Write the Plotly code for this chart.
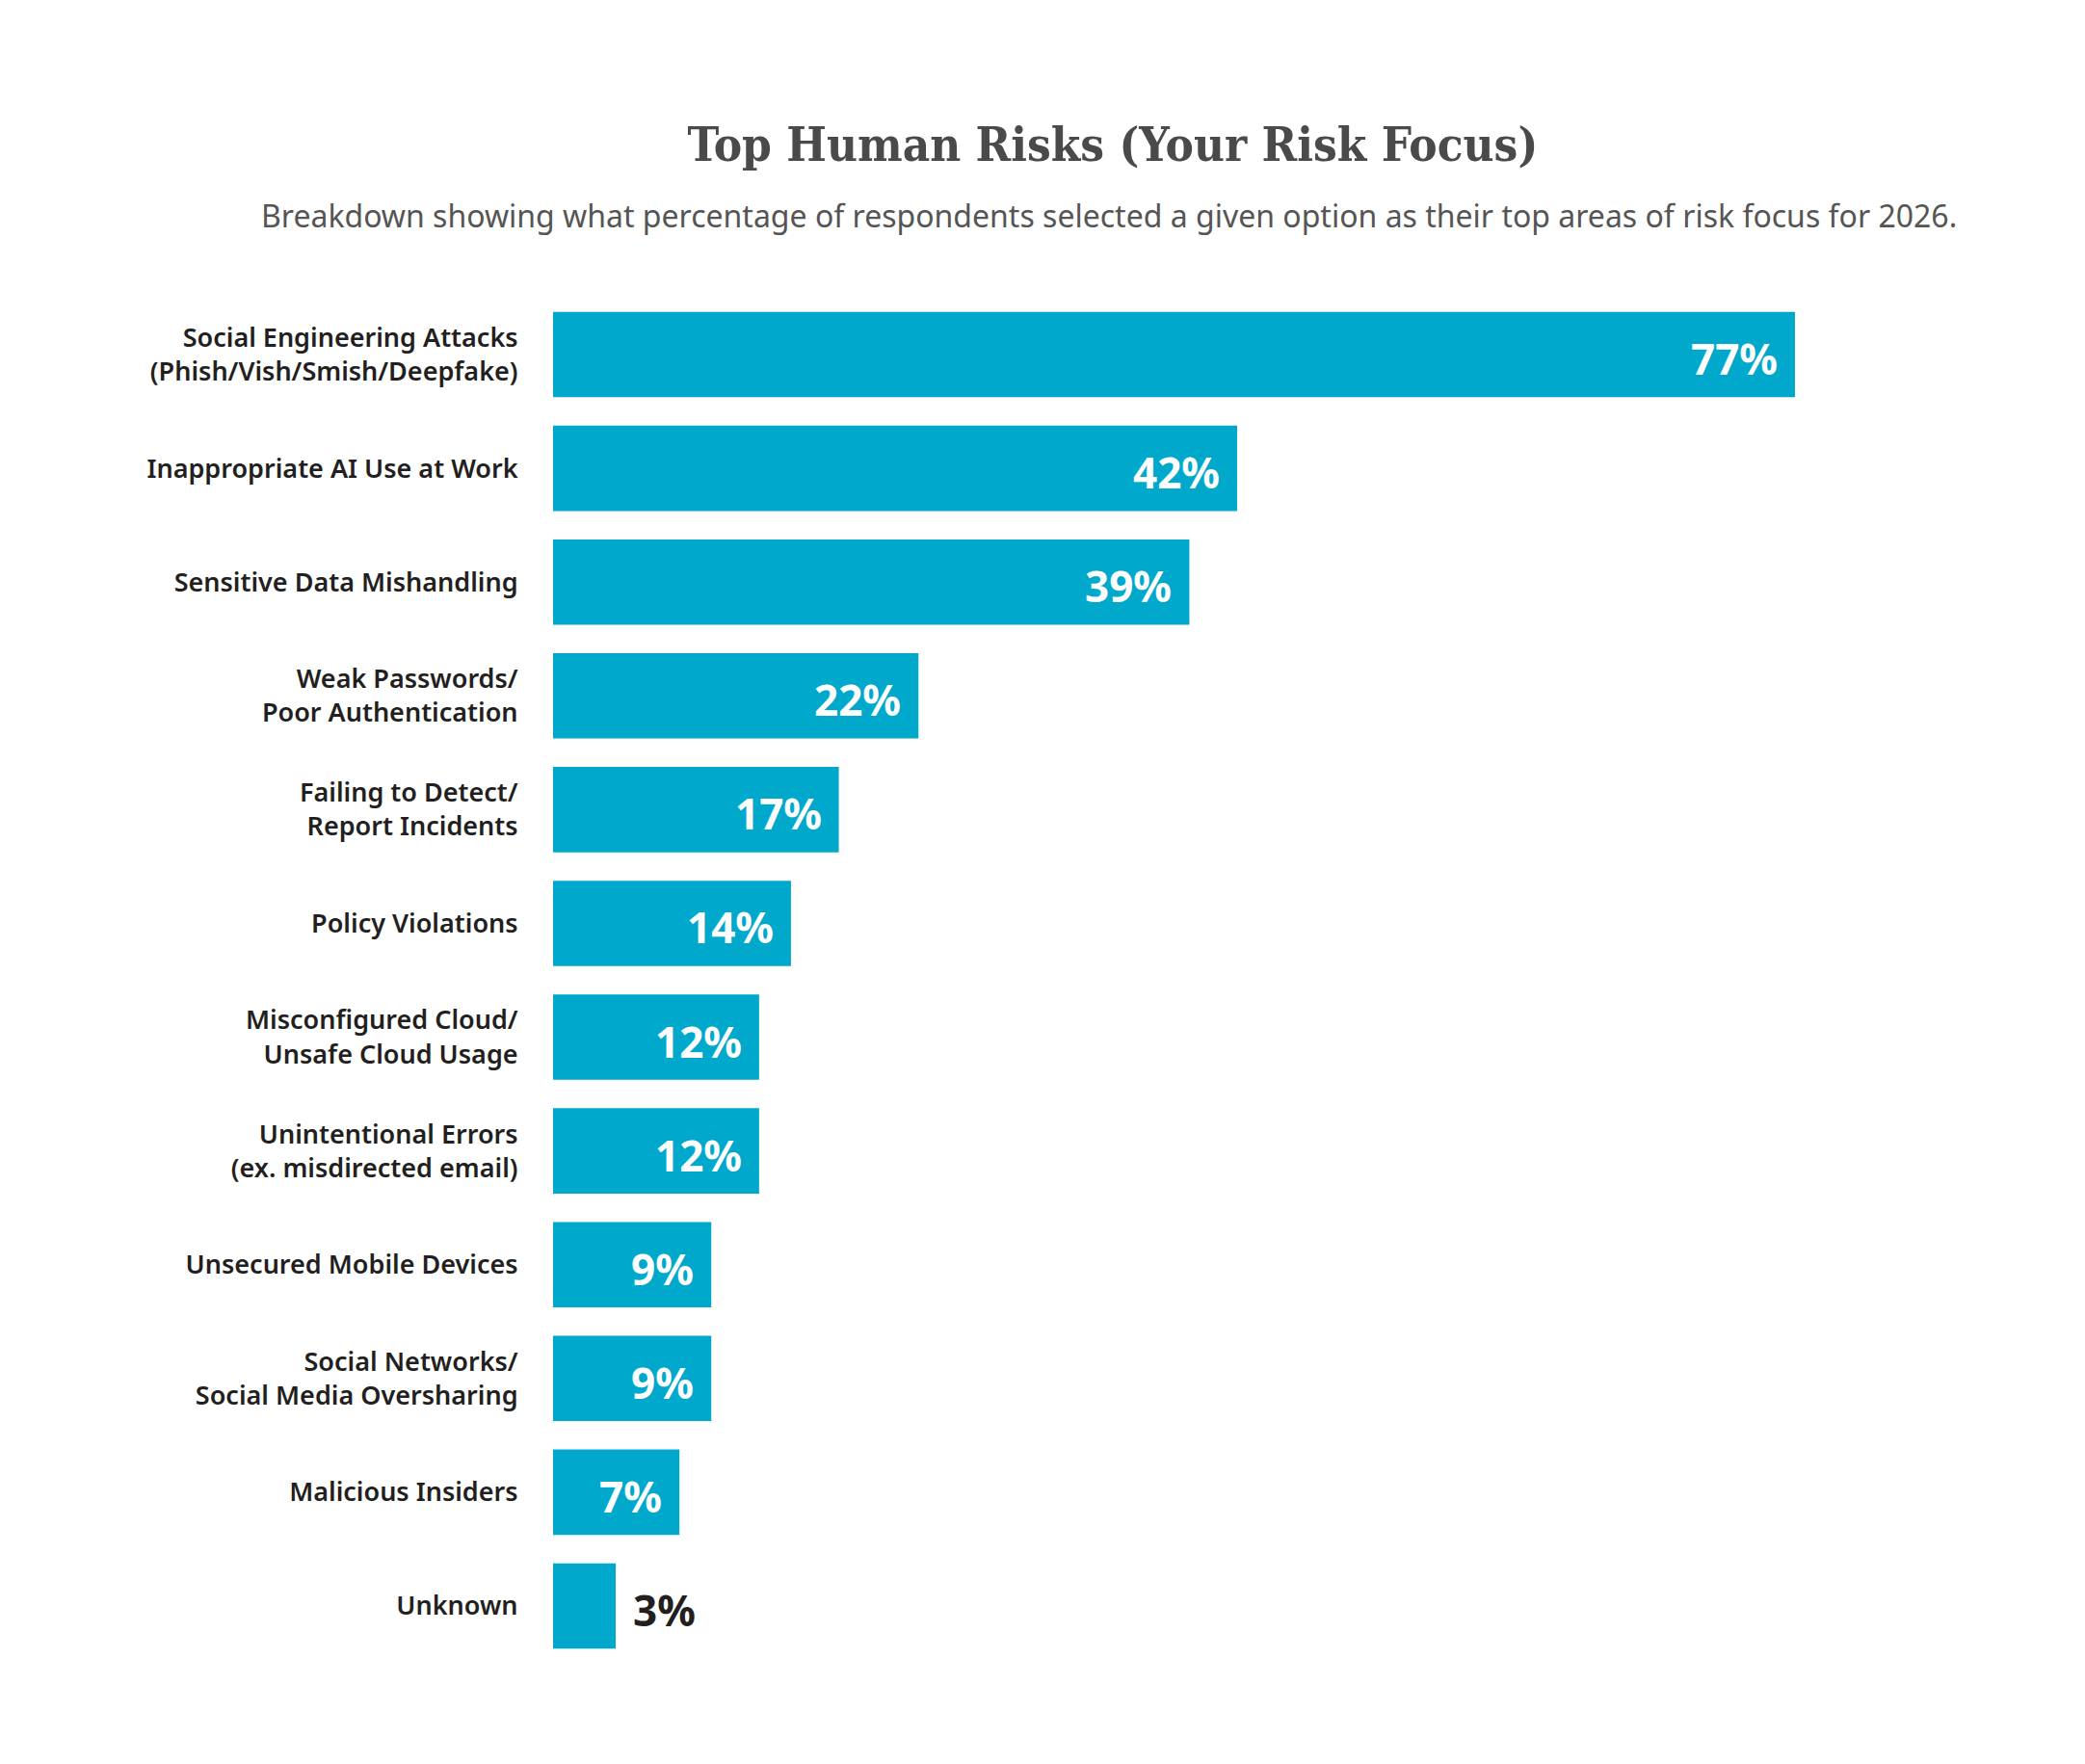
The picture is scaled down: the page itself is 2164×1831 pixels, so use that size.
"""Top Human Risks (Your Risk Focus) - horizontal bar chart"""
import plotly.graph_objects as go

# data, top to bottom
risks = [
    "Social Engineering Attacks<br>(Phish/Vish/Smish/Deepfake)",
    "Inappropriate AI Use at Work",
    "Sensitive Data Mishandling",
    "Weak Passwords/<br>Poor Authentication",
    "Failing to Detect/<br>Report Incidents",
    "Policy Violations",
    "Misconfigured Cloud/<br>Unsafe Cloud Usage",
    "Unintentional Errors<br>(ex. misdirected email)",
    "Unsecured Mobile Devices",
    "Social Networks/<br>Social Media Oversharing",
    "Malicious Insiders",
    "Unknown",
]
pct = [77, 42, 39, 22, 17, 14, 12, 12, 9, 9, 7, 3]

TITLE = "Top Human Risks (Your Risk Focus)"
SUBTITLE = ("Breakdown showing what percentage of respondents selected a given option "
            "as their top areas of risk focus for 2026.")

BAR_COLOR = "#00a8cc"
DARK = "#231f20"
BASE = -0.93          # bars start a little left of zero, like the original
INSIDE_MIN = 5        # below this the value label sits outside the bar

fig = go.Figure()
fig.add_trace(go.Bar(
    x=[v - BASE for v in pct], y=risks, base=BASE, orientation="h",
    marker=dict(color=BAR_COLOR, line=dict(width=0)),
    hoverinfo="skip",
))

# value labels
for name, v in zip(risks, pct):
    inside = v >= INSIDE_MIN
    fig.add_annotation(
        x=v, y=name, xref="x", yref="y",
        text=f"{v}%", showarrow=False,
        xanchor="right" if inside else "left",
        xshift=-16 if inside else 16, yshift=-4,
        font=dict(family="Noto Sans", size=44, weight=700,
                  color="white" if inside else DARK),
    )

fig.add_annotation(
    x=0.394, y=1.06, xref="paper", yref="paper",
    text=SUBTITLE, showarrow=False, xanchor="center", yanchor="middle",
    font=dict(family="Noto Sans", size=32, color="#555555"),
)

fig.update_layout(
    title=dict(text=TITLE, x=0.53, y=1 - 142 / 1831, xref="container", yref="container",
               xanchor="center", yanchor="middle",
               font=dict(family="DejaVu Serif Condensed", size=49, weight=700,
                         color="#4a4a4a")),
    width=2164, height=1831,
    margin=dict(l=566, r=133, t=301, b=113, autoexpand=False),
    paper_bgcolor="white", plot_bgcolor="white",
    bargap=0.25, showlegend=False,
    xaxis=dict(range=[BASE, BASE + 1465 / 16.54], visible=False, fixedrange=True),
    yaxis=dict(autorange="reversed", showgrid=False, zeroline=False, showline=False,
               ticks="outside", ticklen=30, tickcolor="rgba(0,0,0,0)",
               tickfont=dict(family="Noto Sans", size=27, weight=600, color=DARK),
               fixedrange=True),
)

fig.write_html("out.html")
